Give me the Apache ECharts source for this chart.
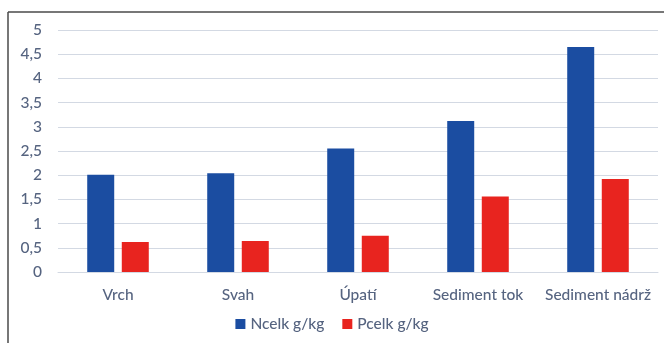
<!DOCTYPE html>
<html>
<head>
<meta charset="utf-8">
<script src="https://cdn.jsdelivr.net/npm/echarts@6/dist/echarts.min.js"></script>
<style>
  html, body { margin: 0; padding: 0; background: #fff; }
  #chart { width: 664px; height: 343px; }
</style>
</head>
<body>
<div id="chart"></div>
<script>
// data
const categories = ['Vrch', 'Svah', 'Úpatí', 'Sediment tok', 'Sediment nádrž'];
const ncelk = [2.01, 2.04, 2.55, 3.12, 4.65];
const pcelk = [0.62, 0.64, 0.75, 1.56, 1.92];

const labelColor = '#566480';
const gridColor = '#d3d9e3';

const chart = echarts.init(document.getElementById('chart'));

chart.setOption({
  animation: false,
  textStyle: { fontFamily: 'Lato, "Open Sans", sans-serif' },
  grid: { left: 58, right: 6, top: 30, bottom: 71 },
  legend: {
    bottom: 6,
    left: 'center',
    itemWidth: 10,
    itemHeight: 10,
    itemGap: 18,
    icon: 'rect',
    textStyle: { color: labelColor, fontSize: 15.5, fontWeight: 500 },
    data: ['Ncelk g/kg', 'Pcelk g/kg']
  },
  xAxis: {
    type: 'category',
    data: categories,
    axisTick: { show: false },
    axisLine: { lineStyle: { color: gridColor } },
    axisLabel: { color: labelColor, fontSize: 15.5, fontWeight: 500, margin: 15, interval: 0, hideOverlap: false }
  },
  yAxis: {
    type: 'value',
    min: 0,
    max: 5,
    interval: 0.5,
    axisLine: { show: false },
    axisTick: { show: false },
    splitLine: { lineStyle: { color: gridColor } },
    axisLabel: {
      color: labelColor,
      fontSize: 15.5,
      fontWeight: 500,
      margin: 16,
      formatter: v => String(v).replace('.', ',')
    }
  },
  series: [
    {
      name: 'Ncelk g/kg',
      type: 'bar',
      data: ncelk,
      barWidth: 27,
      barGap: '28%',
      itemStyle: { color: '#1b4da1' }
    },
    {
      name: 'Pcelk g/kg',
      type: 'bar',
      data: pcelk,
      barWidth: 27,
      itemStyle: { color: '#e8241f' }
    }
  ],
  graphic: [
    { type: 'line', shape: { x1: 8, y1: 12, x2: 664, y2: 12 }, style: { stroke: '#4a4a4a', lineWidth: 1.5 } },
    { type: 'line', shape: { x1: 8, y1: 12, x2: 8, y2: 343 }, style: { stroke: '#4a4a4a', lineWidth: 1.5 } }
  ]
});
</script>
</body>
</html>
